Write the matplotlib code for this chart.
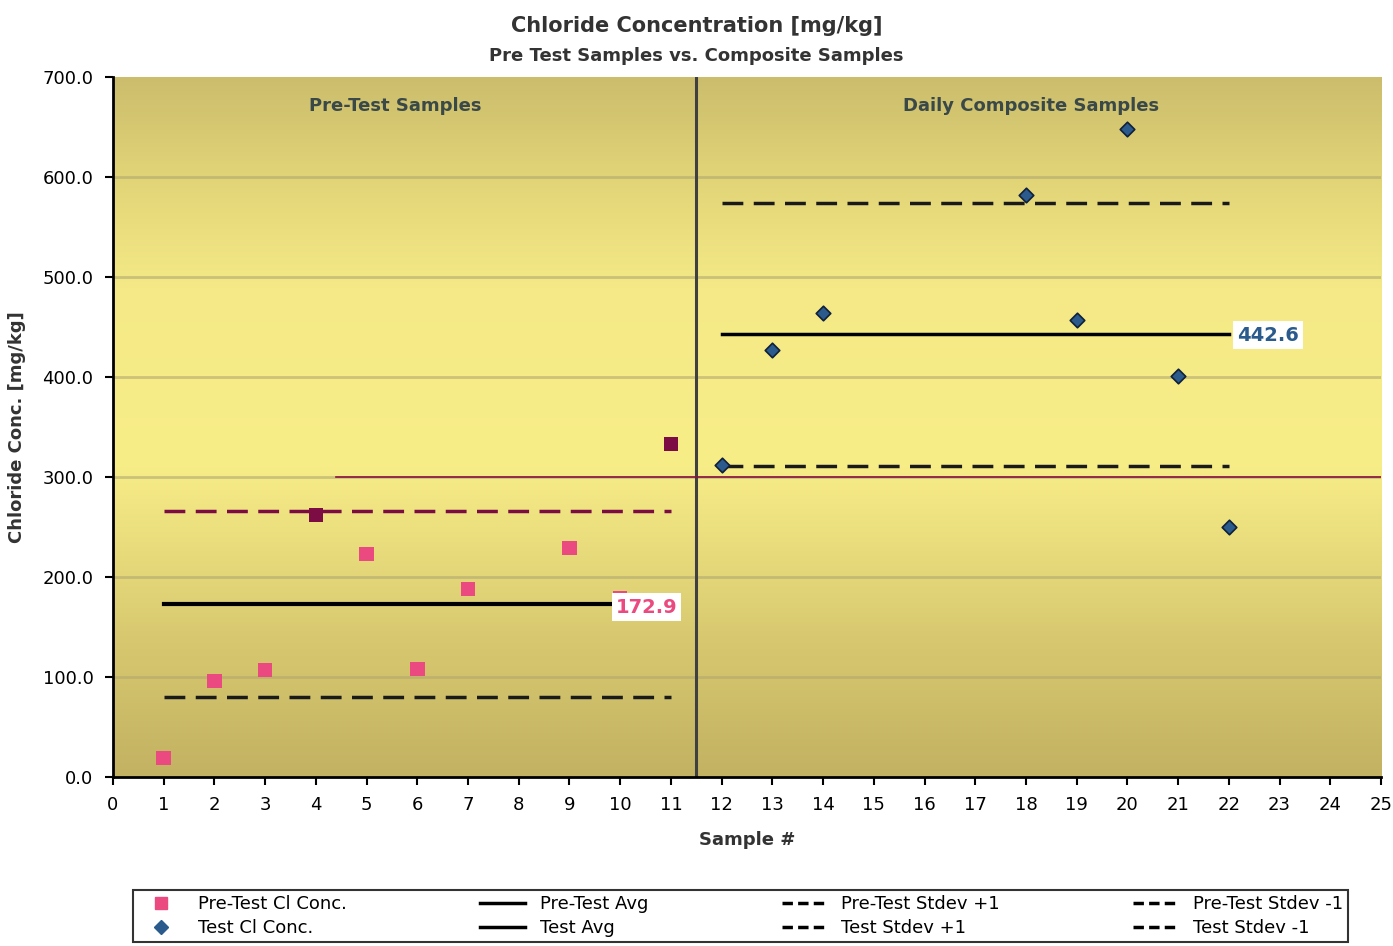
import numpy as np
import matplotlib
matplotlib.use("Agg")
import matplotlib.pyplot as plt
from matplotlib.lines import Line2D
from matplotlib.colors import LinearSegmentedColormap

# ---------------- data ----------------
pre_x = [1, 2, 3, 4, 5, 6, 7, 9, 10, 11]
pre_y = [19, 96, 107, 262, 223, 108, 188, 229, 179, 333]
test_x = [12, 13, 14, 18, 19, 20, 21, 22]
test_y = [312, 427, 464, 582, 457, 648, 401, 250]
pre_avg = 172.9
pre_sd_plus = 266
pre_sd_minus = 80
test_avg = 442.6
test_sd_plus = 574
test_sd_minus = 311
pre_span = [1, 11]
test_span = [12, 22]
ref_line_y = 300
ref_line_span = [4.4, 25]
x_ticks = list(range(0, 26))
y_ticks = [0, 100, 200, 300, 400, 500, 600, 700]

# ---------------- styles ----------------
pink = "#ea4a80"
maroon = "#7c0c44"
blue = "#2a5b8c"
pre_colors = [pink, pink, pink, maroon, pink, pink, pink, pink, pink, maroon]

fig = plt.figure(figsize=(13.93, 9.46), dpi=100)
fig.patch.set_facecolor("white")
ax = fig.add_axes([0.0811, 0.1786, 0.9103, 0.74])
ax.set_xlim(0, 25)
ax.set_ylim(0, 700)

# background gradient
cmap = LinearSegmentedColormap.from_list(
    "bg", [(0.0, "#c2b262"), (0.2, "#d8c970"), (0.45, "#f8ee88"),
           (0.7, "#f4e986"), (0.85, "#e2d578"), (1.0, "#cbbd6c")])
grad = np.linspace(0, 1, 256).reshape(-1, 1)
ax.imshow(grad, extent=[0, 25, 0, 700], aspect="auto", cmap=cmap,
          origin="lower", zorder=0)

for yv in y_ticks[1:-1]:
    ax.axhline(yv, color="#b0a770", lw=2.0, alpha=0.6, zorder=1)

ax.axvline(11.5, color="#404040", lw=2.2, zorder=2)
ax.plot(ref_line_span, [ref_line_y, ref_line_y], color="#8a1040", lw=1.2, zorder=2)

dash = (0, (6, 3))
ax.plot(pre_span, [pre_sd_plus] * 2, color=maroon, lw=2.5, ls=dash, zorder=3)
ax.plot(pre_span, [pre_sd_minus] * 2, color="#1a1a1a", lw=2.5, ls=dash, zorder=3)
ax.plot([pre_span[0], 10], [pre_avg] * 2, color="black", lw=3, zorder=3)
ax.plot(test_span, [test_sd_plus] * 2, color="#1a1a1a", lw=2.5, ls=dash, zorder=3)
ax.plot(test_span, [test_sd_minus] * 2, color="#1a1a1a", lw=2.5, ls=dash, zorder=3)
ax.plot(test_span, [test_avg] * 2, color="black", lw=2.5, zorder=3)

ax.scatter(pre_x, pre_y, marker="s", s=110, c=pre_colors, zorder=4, linewidths=0)
ax.scatter(test_x, test_y, marker="D", s=55, c=blue, edgecolors="#10203a",
           linewidths=1.2, zorder=4)

ax.text(10.52, 170, f"{pre_avg:.1f}", color=pink, fontsize=14, fontweight="bold",
        ha="center", va="center", zorder=5,
        bbox=dict(facecolor="white", edgecolor="none", pad=3))
ax.text(22.78, 442, f"{test_avg:.1f}", color=blue, fontsize=14, fontweight="bold",
        ha="center", va="center", zorder=5,
        bbox=dict(facecolor="white", edgecolor="none", pad=3))

ax.text(5.56, 671, "Pre-Test Samples", color="#3a4848", fontsize=13,
        fontweight="bold", ha="center", va="center", zorder=5)
ax.text(18.1, 671, "Daily Composite Samples", color="#3a4848", fontsize=13,
        fontweight="bold", ha="center", va="center", zorder=5)

ax.set_xticks(x_ticks)
ax.set_xticklabels([str(v) for v in x_ticks], fontsize=13)
ax.set_yticks(y_ticks)
ax.set_yticklabels([f"{v:.1f}" for v in y_ticks], fontsize=13)
ax.tick_params(direction="out", length=6, width=1.5, pad=8)
for side in ["top", "right"]:
    ax.spines[side].set_visible(False)
ax.spines["left"].set_linewidth(2)
ax.spines["bottom"].set_linewidth(2)

ax.set_xlabel("Sample #", fontsize=13, fontweight="bold", color="#333333", labelpad=12)
ax.set_ylabel("Chloride Conc. [mg/kg]", fontsize=13, fontweight="bold",
              color="#333333", labelpad=12)

fig.text(0.5, 0.973, "Chloride Concentration [mg/kg]", fontsize=15,
         fontweight="bold", ha="center", va="center", color="#333333")
fig.text(0.5, 0.941, "Pre Test Samples vs. Composite Samples", fontsize=13,
         fontweight="bold", ha="center", va="center", color="#333333")

ls_leg = (0, (3, 1.5))
handles = [
    Line2D([], [], marker="s", color=pink, ls="none", markersize=9),
    Line2D([], [], marker="D", color=blue, ls="none", markersize=7),
    Line2D([], [], color="black", lw=2.5),
    Line2D([], [], color="black", lw=2.5),
    Line2D([], [], color="black", lw=2.5, ls=ls_leg),
    Line2D([], [], color="black", lw=2.5, ls=ls_leg),
    Line2D([], [], color="black", lw=2.5, ls=ls_leg),
    Line2D([], [], color="black", lw=2.5, ls=ls_leg),
]
labels = ["Pre-Test Cl Conc.", "Test Cl Conc.", "Pre-Test Avg", "Test Avg",
          "Pre-Test Stdev +1", "Test Stdev +1", "Pre-Test Stdev -1", "Test Stdev -1"]
leg = fig.legend(handles, labels, ncol=4, loc="upper left",
                 bbox_to_anchor=(0.0955, 0.0, 0.8725, 0.0592), mode="expand",
                 fontsize=13, frameon=True, fancybox=False, edgecolor="black",
                 borderaxespad=0, handlelength=2.5, labelspacing=0.3,
                 borderpad=0.3)
leg.get_frame().set_linewidth(1.5)

fig.savefig("out.png", dpi=100)
